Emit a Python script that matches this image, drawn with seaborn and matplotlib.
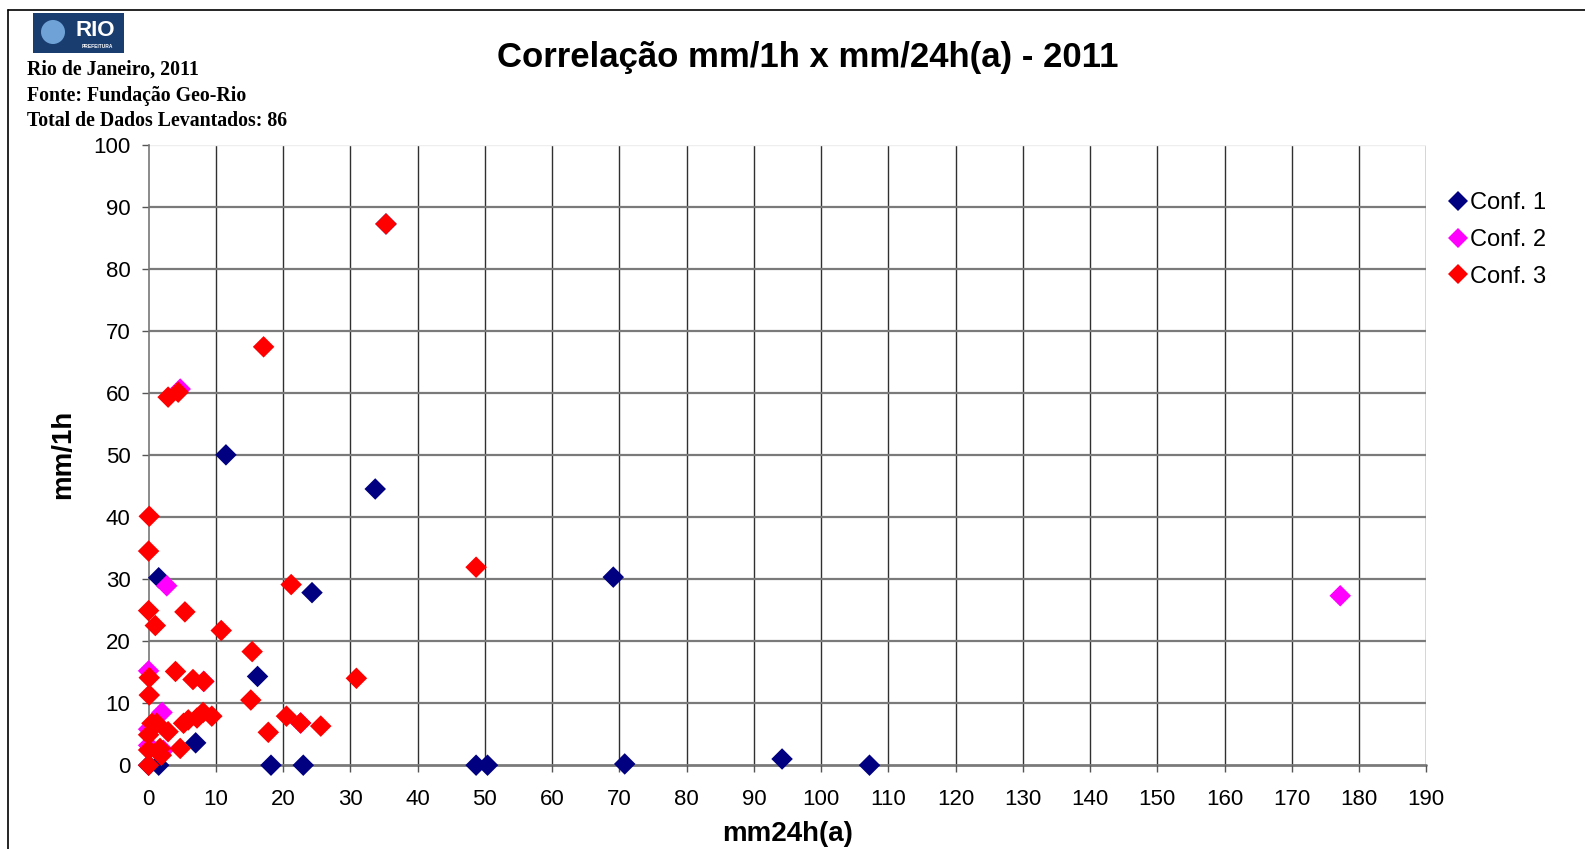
import matplotlib
matplotlib.use("Agg")
import matplotlib.pyplot as plt
from matplotlib.patches import Rectangle, Ellipse
from matplotlib.lines import Line2D
import seaborn as sns
import pandas as pd

# ---------------- data ----------------
conf1_x = [0, 1.5, 1.5, 11.5, 33.7, 16.2, 24.3, 7.0, 18.2, 23.0, 48.7, 50.4, 69.1, 70.8, 94.2, 107.2, 35.3]
conf1_y = [0, 0, 30.2, 50.0, 44.5, 14.3, 27.8, 3.6, 0, 0, 0, 0, 30.3, 0.2, 1.0, 0, 87.2]

conf2_x = [0, 2.0, 0, 0, 2.7, 8.2, 22.6, 2.2, 4.7, 177.2]
conf2_y = [15.2, 8.5, 5.8, 3.2, 28.9, 13.5, 6.8, 2.4, 60.6, 27.3]

conf3_x = [0.1, 0, 21.2, 0, 5.4, 1.0, 10.8, 15.4, 4.0, 0.1, 6.6, 8.2, 30.9, 0.1, 15.2,
           20.5, 22.6, 25.6, 17.8, 5.2, 5.9, 7.2, 8.1, 9.4, 2.9, 4.7, 0.5, 1.2, 0, 0,
           1.7, 1.9, 0, 17.1, 48.7, 35.3, 2.9, 4.4]
conf3_y = [40.1, 34.5, 29.1, 24.9, 24.7, 22.5, 21.7, 18.3, 15.1, 14.1, 13.8, 13.5, 14.0, 11.3, 10.5,
           7.9, 6.8, 6.3, 5.3, 6.75, 7.3, 7.6, 8.5, 7.9, 5.4, 2.7, 6.75, 6.75, 4.9, 2.45,
           2.7, 1.6, 0, 67.4, 31.9, 87.2, 59.3, 60.1]

series_names = ["Conf. 1", "Conf. 2", "Conf. 3"]
series_colors = ["#000080", "#FF00FF", "#FF0000"]
x_ticks = list(range(0, 191, 10))
y_ticks = list(range(0, 101, 10))

title = "Correlação mm/1h x mm/24h(a) - 2011"
header_lines = ["Rio de Janeiro, 2011", "Fonte: Fundação Geo-Rio", "Total de Dados Levantados: 86"]

df = pd.concat([
    pd.DataFrame({"x": conf1_x, "y": conf1_y, "conf": series_names[0]}),
    pd.DataFrame({"x": conf2_x, "y": conf2_y, "conf": series_names[1]}),
    pd.DataFrame({"x": conf3_x, "y": conf3_y, "conf": series_names[2]}),
], ignore_index=True)

# ---------------- figure ----------------
sns.set_style("white")
plt.rcParams["font.family"] = ["Liberation Sans", "DejaVu Sans"]
plt.rcParams["text.color"] = "black"
plt.rcParams["axes.labelcolor"] = "black"
plt.rcParams["xtick.color"] = "black"
plt.rcParams["ytick.color"] = "black"

W, H = 1585, 849
fig = plt.figure(figsize=(W / 100, H / 100), dpi=100)
ax = fig.add_axes([148.6 / W, 1 - 765.2 / H, (1426.3 - 148.6) / W, (765.2 - 144.5) / H])

# grid
for xv in x_ticks[1:]:
    ax.axvline(xv, color="#303030", lw=1.0, zorder=0)
for yv in y_ticks[1:-1]:
    ax.axhline(yv, color="#7a7a7a", lw=1.6, zorder=0)
ax.axhline(100, color="#eeeeee", lw=1.0, zorder=0)
ax.axhline(0, color="#7a7a7a", lw=2.0, zorder=0.5, clip_on=False)

palette = dict(zip(series_names, series_colors))
sns.scatterplot(data=df, x="x", y="y", hue="conf", hue_order=series_names, palette=palette,
                marker="D", s=120, linewidth=0, ax=ax, legend=False, clip_on=False, zorder=3)

ax.set_xlim(0, 190)
ax.set_ylim(0, 100)
ax.set_xticks(x_ticks)
ax.set_yticks(y_ticks)
ax.tick_params(axis="both", which="major", labelsize=16, direction="out", length=5,
               width=1, color="#555555", labelcolor="black", bottom=True, left=True)
ax.tick_params(axis="y", pad=8)
ax.tick_params(axis="x", pad=12)
for sp in ["top", "right", "bottom"]:
    ax.spines[sp].set_visible(False)
ax.spines["left"].set_color("#777777")
ax.spines["left"].set_linewidth(1.2)

ax.set_xlabel("mm24h(a)", fontsize=20, fontweight="bold", color="black")
ax.set_ylabel("mm/1h", fontsize=20, fontweight="bold", color="black")
ax.xaxis.set_label_coords(0.5, -0.111)
ax.xaxis.label.set_va("center")
ax.yaxis.set_label_coords(-0.0672, 0.5)
ax.yaxis.label.set_va("center")

# legend
handles = [Line2D([0], [0], marker="D", linestyle="none", markersize=10,
                  markerfacecolor=c, markeredgewidth=0) for c in series_colors]
ax.legend(handles, series_names, loc="upper left", bbox_to_anchor=(1438 / W, 1 - 183 / H),
          bbox_transform=fig.transFigure, frameon=False, fontsize=17,
          handletextpad=0.05, handlelength=0.9, labelspacing=0.62, borderaxespad=0)

# title & header
fig.text(808 / W, 1 - 58 / H, title, ha="center", va="center", fontsize=25, fontweight="bold")
for i, line in enumerate(header_lines):
    fig.text(27 / W, 1 - (69.5 + 26 * i) / H, line, ha="left", va="center", fontsize=14.3,
             fontweight="bold", family=["Liberation Serif", "DejaVu Serif"], color="black")

# outer frame lines
fig.add_artist(Line2D([8 / W, 1], [1 - 10 / H, 1 - 10 / H], color="black", lw=1.2,
                      transform=fig.transFigure))
fig.add_artist(Line2D([8 / W, 8 / W], [0, 1 - 10 / H], color="black", lw=1.2,
                      transform=fig.transFigure))

# logo
fig.add_artist(Rectangle((33 / W, 1 - 53 / H), 91 / W, 40 / H, transform=fig.transFigure,
                         facecolor="#1a3d70", edgecolor="none"))
fig.add_artist(Ellipse((53 / W, 1 - 32 / H), 24 / W, 24 / H, transform=fig.transFigure,
                       facecolor="#6fa3d8", edgecolor="none"))
fig.text(95 / W, 1 - 30 / H, "RIO", ha="center", va="center", fontsize=16, fontweight="bold",
         color="white")
fig.text(97 / W, 1 - 46 / H, "PREFEITURA", ha="center", va="center", fontsize=3.5,
         fontweight="bold", color="white")

fig.savefig("out.png", dpi=100, facecolor="white")
